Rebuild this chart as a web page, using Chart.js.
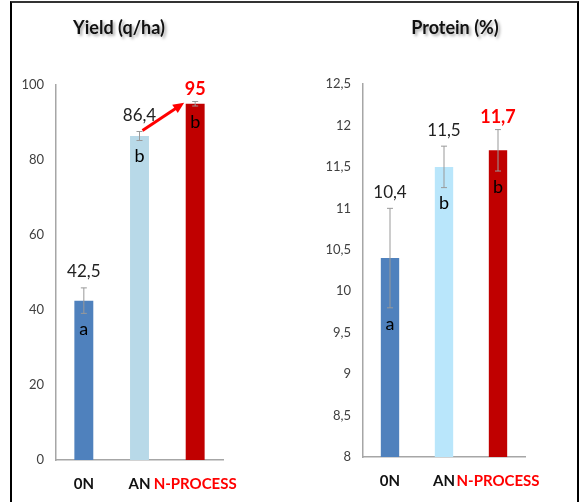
<!DOCTYPE html>
<html>
<head>
<meta charset="utf-8">
<script src="https://cdn.jsdelivr.net/npm/chart.js@4"></script>
<style>
  body { margin: 0; background: #fff; width: 579px; height: 502px; overflow: hidden; position: relative; }
  .frame { position: absolute; left: 10px; top: 1px; width: 565px; height: 540px; border-top: 2px solid #333; border-left: 2px solid #000; border-right: 2px solid #000; }
  canvas { position: absolute; top: 0; }
  .title { position: absolute; top: 16px; font: bold 18px Lato, sans-serif; color: #111; text-shadow: 2px 2px 3px rgba(0,0,0,0.35); white-space: nowrap; transform: translateX(-50%); }
</style>
</head>
<body>
<div class="frame"></div>
<canvas id="yieldChart" width="290" height="502" style="left:0"></canvas>
<canvas id="proteinChart" width="289" height="502" style="left:290px"></canvas>
<div class="title" style="left:119px">Yield (q/ha)</div>
<div class="title" style="left:455px">Protein (%)</div>
<script>
// chart data
const categories = ['0N', 'AN', 'N-PROCESS'];
const yieldValues = [42.5, 86.4, 95];
const yieldErrors = [3.4, 1.2, 0.6];
const proteinValues = [10.4, 11.5, 11.7];
const proteinErrors = [0.6, 0.25, 0.25];
const yieldLetters = ['a', 'b', 'b'];
const proteinLetters = ['a', 'b', 'b'];
const yieldColors = ['#4F81BD', '#B8D9E8', '#C00000'];
const proteinColors = ['#4F81BD', '#B9E6FB', '#C00000'];
const highlightIndex = 2; // N-PROCESS gets the red labels

const FONT = 'Lato, sans-serif';
const RED = '#FF0000';

const fmt = v => String(Math.round(v * 10) / 10).replace('.', ',');

// error bars, value labels and letters
const annotations = {
  id: 'annotations',
  afterDatasetsDraw(chart, args, opts) {
    const ctx = chart.ctx;
    const meta = chart.getDatasetMeta(0);
    const y = chart.scales.y;
    ctx.save();
    meta.data.forEach((bar, i) => {
      const v = opts.values[i];
      const e = opts.errors[i];
      const yTop = y.getPixelForValue(v + e);
      const yBot = y.getPixelForValue(v - e);
      // error bar
      ctx.strokeStyle = '#999';
      ctx.lineWidth = 1;
      ctx.beginPath();
      ctx.moveTo(bar.x, yTop); ctx.lineTo(bar.x, yBot);
      ctx.moveTo(bar.x - 3, yTop); ctx.lineTo(bar.x + 3, yTop);
      ctx.moveTo(bar.x - 3, yBot); ctx.lineTo(bar.x + 3, yBot);
      ctx.stroke();

      // value label
      ctx.textAlign = 'center';
      ctx.textBaseline = 'middle';
      if (i === highlightIndex) {
        ctx.fillStyle = RED;
        ctx.font = 'bold 18px ' + FONT;
        ctx.fillText(fmt(v), bar.x, yTop - 12);
      } else {
        ctx.fillStyle = '#222';
        ctx.font = '17px ' + FONT;
        ctx.fillText(fmt(v), bar.x, yTop - 16);
      }

      // significance letter
      ctx.fillStyle = '#000';
      ctx.font = '18px ' + FONT;
      ctx.fillText(opts.letters[i], bar.x, yBot + 16);
    });

    if (opts.arrow) {
      const a = meta.data[1];
      const b = meta.data[2];
      const x0 = a.x + 3, y0 = y.getPixelForValue(opts.values[1] + opts.errors[1]) - 1;
      const x1 = b.x - 11, y1 = y.getPixelForValue(opts.values[2]) - 1;
      const ang = Math.atan2(y1 - y0, x1 - x0);
      ctx.strokeStyle = RED;
      ctx.fillStyle = RED;
      ctx.lineWidth = 3;
      ctx.beginPath();
      ctx.moveTo(x0, y0);
      ctx.lineTo(x1 - 8 * Math.cos(ang), y1 - 8 * Math.sin(ang));
      ctx.stroke();
      ctx.beginPath();
      ctx.moveTo(x1, y1);
      ctx.lineTo(x1 - 11 * Math.cos(ang) + 5 * Math.sin(ang), y1 - 11 * Math.sin(ang) - 5 * Math.cos(ang));
      ctx.lineTo(x1 - 11 * Math.cos(ang) - 5 * Math.sin(ang), y1 - 11 * Math.sin(ang) + 5 * Math.cos(ang));
      ctx.closePath();
      ctx.fill();
    }
    ctx.restore();
  }
};

function makeChart(id, cfg) {
  return new Chart(document.getElementById(id), {
    type: 'bar',
    data: {
      labels: categories,
      datasets: [{
        data: cfg.values,
        backgroundColor: cfg.colors,
        borderWidth: 0,
        barPercentage: 0.34,
        categoryPercentage: 1
      }]
    },
    options: {
      responsive: false,
      animation: false,
      devicePixelRatio: 1,
      layout: { padding: cfg.padding },
      plugins: {
        legend: { display: false },
        tooltip: { enabled: false },
        annotations: {
          values: cfg.values,
          errors: cfg.errors,
          letters: cfg.letters,
          arrow: cfg.arrow
        }
      },
      scales: {
        x: {
          grid: { display: false, drawTicks: false },
          border: { display: true, color: '#A6A6A6', width: 1.5 },
          ticks: {
            padding: 15,
            maxRotation: 0,
            minRotation: 0,
            autoSkip: false,
            font: { family: FONT, size: 15, weight: 'bold' },
            color: c => c.index === highlightIndex ? RED : '#111'
          },
          afterFit: s => { s.height = cfg.xHeight; }
        },
        y: {
          min: cfg.min,
          max: cfg.max,
          grid: { display: false, drawTicks: false },
          border: { display: true, color: '#A6A6A6', width: 1.5 },
          ticks: {
            stepSize: cfg.step,
            padding: 12,
            font: { family: FONT, size: 13 },
            color: '#404040',
            callback: v => fmt(v)
          },
          afterFit: s => { s.width = cfg.yWidth; }
        }
      }
    },
    plugins: [annotations]
  });
}

makeChart('yieldChart', {
  values: yieldValues, errors: yieldErrors, letters: yieldLetters, colors: yieldColors,
  min: 0, max: 100, step: 20,
  padding: { top: 85, right: 67, left: 0, bottom: 0 },
  yWidth: 56, xHeight: 42, arrow: true
});

makeChart('proteinChart', {
  values: proteinValues, errors: proteinErrors, letters: proteinLetters, colors: proteinColors,
  min: 8, max: 12.5, step: 0.5,
  padding: { top: 84, right: 54, left: 0, bottom: 0 },
  yWidth: 73, xHeight: 45, arrow: false
});
</script>
</body>
</html>
